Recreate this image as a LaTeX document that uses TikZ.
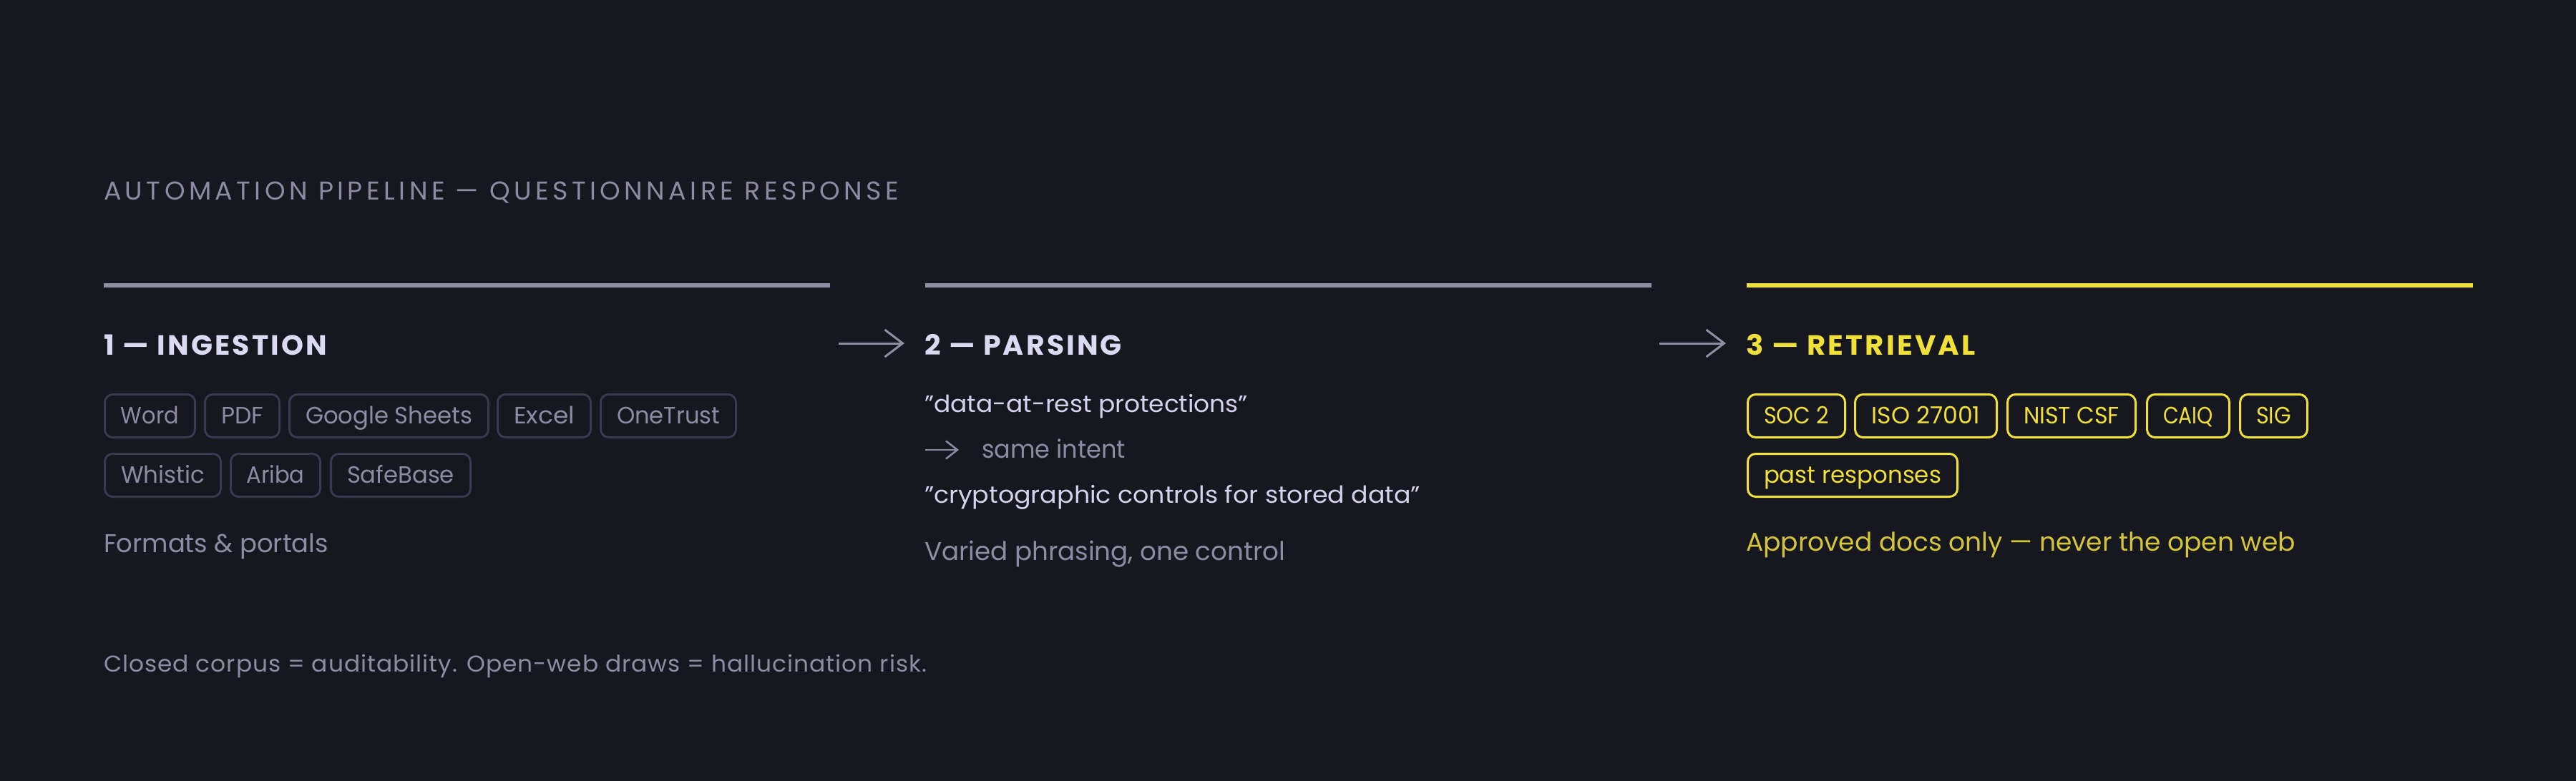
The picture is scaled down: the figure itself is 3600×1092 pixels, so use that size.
\documentclass[tikz,border=0pt]{standalone}
\usepackage{fontspec}
\setmainfont{Poppins}
\usepackage{graphicx}
\usetikzlibrary{arrows.meta}
\definecolor{bg}{HTML}{17171F}
\definecolor{titlegrey}{HTML}{8D8BA2}
\definecolor{headcol}{HTML}{DCD9F3}
\definecolor{bodycol}{HTML}{D6D3EC}
\definecolor{greytxt}{HTML}{8E8CA3}
\definecolor{chipborder}{HTML}{3A394E}
\definecolor{bargrey}{HTML}{8F8EA3}
\definecolor{yel}{HTML}{F0E03A}
\definecolor{yeldim}{HTML}{D4C63A}
\newcommand\myfs[1]{\fontsize{#1pt}{#1pt}\selectfont}
\newcommand\fitw[2]{\resizebox{#1pt}{\height}{#2}}
\tikzset{
  txt/.style={inner sep=0pt, outer sep=0pt, anchor=base west},
  titletxt/.style={txt, text=titlegrey, font=\myfs{36}\addfontfeatures{LetterSpace=15}},
  headtxt/.style={txt, text=headcol, font=\myfs{39}\bfseries\addfontfeatures{LetterSpace=8}},
  bodytxt/.style={txt, text=bodycol, font=\myfs{33}},
  greytext/.style={txt, text=greytxt, font=\myfs{35}},
  captxt/.style={txt, text=greytxt, font=\myfs{36}},
  foottxt/.style={txt, text=greytxt, font=\myfs{32}\addfontfeatures{LetterSpace=3}},
  chipg/.style={draw=chipborder, line width=3pt, rounded corners=11pt, inner sep=0pt,
    minimum height=60pt, text height=28pt, text depth=7pt, text=greytxt, font=\myfs{33}},
  chipy/.style={chipg, draw=yel, text=yel},
  barline/.style={line width=6.5pt, draw=bargrey},
  flowarrow/.style={draw=bargrey, line width=3pt, -{Straight Barb[length=25pt, width=38pt]}},
  smallarrow/.style={draw=greytxt, line width=2.5pt, -{Straight Barb[length=16pt, width=25pt]}}
}
\begin{document}
\begin{tikzpicture}[x=1pt, y=-1pt]
\fill[bg] (0,0) rectangle (3600,1092);
\useasboundingbox (0,0) rectangle (3600,1092);

% title
\node[titletxt] (title) at (145,279) {\fitw{1111}{AUTOMATION PIPELINE — QUESTIONNAIRE RESPONSE}};

% bars
\draw[barline] (145,399) -- (1160,399);
\draw[barline] (1293,399) -- (2308,399);
\draw[barline, draw=yel] (2441,399) -- (3456,399);

% headings
\node[headtxt] (h1) at (145,496) {\fitw{312}{1 — INGESTION}};
\node[headtxt] (h2) at (1292,496) {\fitw{276}{2 — PARSING}};
\node[headtxt, text=yel] (h3) at (2440,496) {\fitw{321}{3 — RETRIEVAL}};

% arrows between stages
\coordinate (a1s) at (1172,480);
\coordinate (a1e) at (1264,480);
\coordinate (a2s) at (2319,480);
\coordinate (a2e) at (2412,480);
\draw[flowarrow] (a1s) -- (a1e);
\draw[flowarrow] (a2s) -- (a2e);

% ingestion chips
\node[chipg, minimum width=126pt] (cWord) at (209.5,581.5) {\fitw{81}{Word}};
\node[chipg, minimum width=104pt] (cPDF) at (338.5,581.5) {\fitw{59}{PDF}};
\node[chipg, minimum width=278pt] (cGS) at (543.5,581.5) {\fitw{233}{Google Sheets}};
\node[chipg, minimum width=130pt] (cExcel) at (760.5,581.5) {\fitw{85}{Excel}};
\node[chipg, minimum width=189pt] (cOne) at (934,581.5) {\fitw{144}{OneTrust}};
\node[chipg, minimum width=162pt] (cWhistic) at (227.5,664.5) {\fitw{117}{Whistic}};
\node[chipg, minimum width=125pt] (cAriba) at (385,664.5) {\fitw{81}{Ariba}};
\node[chipg, minimum width=195pt] (cSafe) at (560,664.5) {\fitw{150}{SafeBase}};
\node[captxt] (cap1) at (145,772) {\fitw{314}{Formats \& portals}};

% parsing
\node[bodytxt] (p1) at (1292,576) {\fitw{452}{”data-at-rest protections”}};
\coordinate (sas) at (1293,629);
\coordinate (sae) at (1340,629);
\draw[smallarrow] (sas) -- (sae);
\node[greytext] (p2) at (1372,640) {\fitw{201}{same intent}};
\node[bodytxt] (p3) at (1292,703) {\fitw{693}{”cryptographic controls for stored data”}};
\node[captxt] (cap2) at (1292,783) {\fitw{504}{Varied phrasing, one control}};

% retrieval chips
\node[chipy, minimum width=136pt] (cSOC) at (2510.5,581.5) {\fitw{91}{SOC 2}};
\node[chipy, minimum width=198pt] (cISO) at (2691.5,581.5) {\fitw{152}{ISO 27001}};
\node[chipy, minimum width=179pt] (cNIST) at (2895,581.5) {\fitw{134}{NIST CSF}};
\node[chipy, minimum width=115pt] (cCAIQ) at (3058,581.5) {\fitw{70}{CAIQ}};
\node[chipy, minimum width=94pt] (cSIG) at (3177.5,581.5) {\fitw{49}{SIG}};
\node[chipy, minimum width=293pt] (cPast) at (2589,664.5) {\fitw{248}{past responses}};
\node[captxt, text=yeldim] (cap3) at (2440,770) {\fitw{768}{Approved docs only — never the open web}};

% footer
\node[foottxt] (foot) at (145,939) {\fitw{1150}{Closed corpus = auditability. Open-web draws = hallucination risk.}};
\end{tikzpicture}
\end{document}
